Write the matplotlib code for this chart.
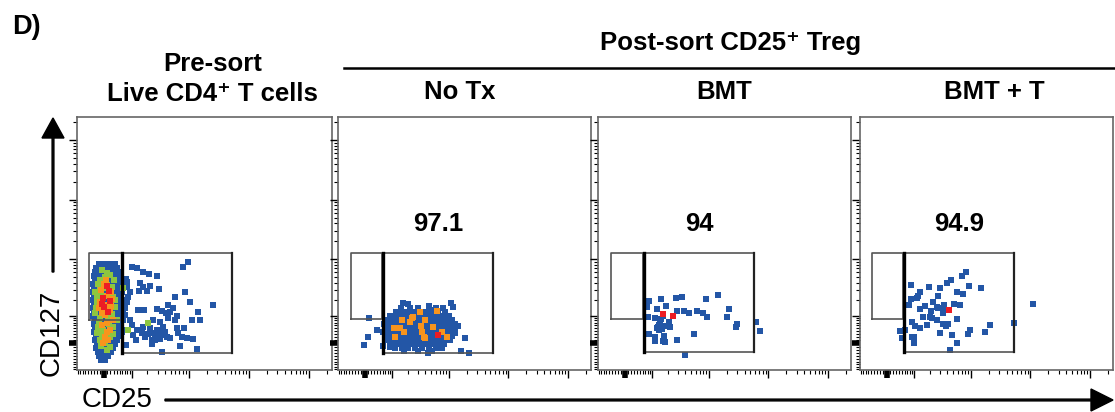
import numpy as np
import matplotlib
matplotlib.use("Agg")
import matplotlib.pyplot as plt

plt.rcParams['font.family'] = ['Liberation Sans', 'DejaVu Sans']

# ---- data (channel units, 0..~255 along each panel axis) ----
panel_titles = ["No Tx", "BMT", "BMT + T"]
gate_percent = ["97.1", "94", "94.9"]

# Pre-sort panel: dense CD25- core, listed as (CD127 row, [CD25 values])
p1_core_rows = [
    (106, [22, 27, 33, 38]),
    (102, [19, 24, 30, 35, 40]),
    (98, [18, 22, 27, 33, 38, 42]),
    (94, [17, 21, 25, 31, 36, 41]),
    (90, [18, 22, 27, 32, 37, 43]),
    (86, [16, 20, 25, 29, 34, 39, 44]),
    (82, [17, 22, 27, 31, 38, 42]),
    (78, [16, 20, 25, 29, 34, 40, 45]),
    (74, [17, 22, 27, 32, 37, 43]),
    (70, [16, 19, 24, 29, 35, 40, 45]),
    (66, [17, 21, 26, 32, 37, 42, 47]),
    (62, [16, 20, 24, 29, 35, 39, 44]),
    (58, [17, 21, 27, 33, 37, 42, 46]),
    (54, [16, 20, 25, 29, 34, 40, 45]),
    (50, [18, 22, 27, 31, 36, 41, 46]),
    (46, [17, 21, 25, 30, 35, 39, 44]),
    (42, [18, 22, 27, 32, 37, 42]),
    (38, [17, 21, 25, 30, 35, 40, 45]),
    (34, [19, 23, 27, 32, 37, 42]),
    (30, [18, 22, 26, 30, 35, 40]),
    (26, [20, 24, 28, 33, 38]),
    (22, [19, 23, 27, 32, 36]),
    (18, [21, 25, 29, 34]),
    (14, [22, 26, 31]),
    (10, [24, 28]),
]
p1_blue = [
    (111, 108), (106, 103), (55, 103), (60, 102), (66, 98), (72, 96), (80, 94),
    (49, 91), (63, 87), (66, 83), (73, 84), (82, 81), (62, 79), (70, 79),
    (50, 83), (53, 78), (108, 78), (98, 73), (113, 68), (136, 65), (121, 58),
    (61, 60), (67, 60), (80, 61), (85, 59), (89, 57), (93, 58), (100, 54),
    (91, 52), (98, 50), (123, 50), (115, 50), (107, 42), (83, 48), (76, 50),
    (86, 43), (83, 38), (78, 35), (75, 30), (83, 31), (90, 33), (101, 37),
    (105, 33), (110, 32), (103, 24), (116, 31), (120, 21), (85, 18), (55, 45),
    (60, 40), (65, 37), (56, 35), (59, 30), (68, 33), (46, 70), (50, 68),
    (48, 62), (51, 73), (53, 50), (66, 43), (73, 42), (80, 40), (75, 37),
    (80, 33), (86, 35), (93, 32), (75, 26), (100, 42), (96, 62), (91, 65),
    (47, 40), (49, 25), (48, 55), (50, 88), (78, 30), (88, 38), (71, 36),
]
p1_green = [
    (28, 93), (30, 85), (23, 80), (35, 83), (20, 67), (25, 63), (23, 52),
    (31, 52), (21, 43), (26, 40), (33, 33), (23, 30), (33, 23), (20, 73),
    (36, 73), (38, 63), (18, 57), (30, 97), (23, 90), (36, 43), (20, 37),
    (28, 27), (71, 47), (51, 40), (46, 82), (25, 100), (33, 95), (21, 86),
    (27, 82), (37, 90), (18, 78), (24, 76), (38, 70), (19, 62), (35, 56),
    (22, 47), (32, 46), (25, 35), (36, 36), (30, 20), (24, 24), (40, 50),
]
p1_orange = [
    (30, 74), (23, 68), (31, 65), (25, 57), (33, 60), (30, 47), (33, 40),
    (28, 33), (31, 30), (27, 86), (34, 78), (28, 55), (24, 80), (29, 90),
    (35, 71), (22, 62), (36, 50), (25, 45), (30, 38), (26, 27), (34, 64),
]
p1_red = [(32, 79), (26, 72), (33, 69), (27, 63), (31, 58), (30, 84), (25, 66)]

# No Tx: dense CD25+ blob
p2_core_rows = [
    (62, [72, 80, 98, 105]),
    (58, [58, 64, 70, 76, 82, 88, 94, 100, 107]),
    (54, [52, 57, 63, 69, 75, 81, 87, 93, 99, 105, 111]),
    (50, [48, 54, 60, 66, 72, 78, 84, 90, 96, 102, 108, 114]),
    (46, [46, 51, 57, 63, 69, 75, 81, 87, 93, 99, 105, 111, 117]),
    (42, [48, 54, 60, 66, 72, 78, 84, 90, 96, 102, 108, 114]),
    (38, [45, 51, 57, 63, 69, 75, 81, 87, 93, 99, 105, 111, 117]),
    (34, [48, 54, 60, 66, 72, 78, 84, 90, 96, 102, 108, 114]),
    (30, [47, 53, 59, 65, 71, 77, 83, 89, 95, 101, 107, 112]),
    (26, [52, 58, 64, 70, 76, 82, 88, 94, 100, 106]),
    (22, [57, 64, 70, 77, 84, 91, 98, 104]),
    (19, [66, 80, 94]),
]
p2_blue = [
    (31, 52), (39, 40), (30, 33), (26, 25), (45, 24), (47, 44), (63, 62),
    (65, 67), (70, 66), (91, 64), (92, 60), (113, 67), (115, 63), (120, 44),
    (117, 37), (127, 32), (123, 19), (131, 17), (90, 17), (52, 23),
]
p2_orange = [
    (56, 42), (62, 42), (66, 38), (74, 52), (75, 53), (82, 58), (87, 50),
    (83, 44), (84, 38), (87, 32), (95, 43), (99, 59), (104, 38), (109, 33),
    (64, 50), (72, 48), (57, 33), (86, 33),
]
p2_red = [(100, 35)]

# BMT
p3_blue = [
    (51, 69), (63, 71), (78, 72), (84, 73), (108, 71), (120, 75), (49, 63),
    (68, 64), (59, 61), (79, 59), (86, 59), (91, 57), (99, 59), (105, 57),
    (109, 53), (131, 61), (129, 53), (50, 53), (57, 52), (63, 51), (65, 54),
    (71, 48), (72, 43), (61, 45), (63, 43), (59, 42), (61, 40), (64, 41),
    (66, 44), (51, 36), (57, 33), (66, 34), (57, 29), (65, 29), (67, 28),
    (79, 30), (96, 36), (139, 46), (138, 43), (158, 48), (162, 39), (87, 15),
    (60, 43), (62, 46),
]
p3_red = [(65, 56), (75, 54)]

# BMT + T
p4_blue = [
    (106, 98), (102, 94), (91, 90), (87, 87), (51, 85), (69, 83), (80, 82),
    (109, 84), (121, 82), (60, 78), (97, 78), (103, 76), (58, 74), (78, 74),
    (51, 71), (57, 72), (73, 68), (49, 65), (65, 64), (77, 63), (84, 65),
    (94, 66), (100, 65), (173, 66), (60, 61), (71, 59), (83, 60), (83, 57),
    (97, 51), (63, 53), (70, 53), (72, 52), (77, 50), (52, 48), (55, 44),
    (60, 42), (67, 45), (83, 46), (86, 44), (88, 46), (45, 40), (40, 39),
    (42, 32), (52, 33), (54, 33), (80, 37), (92, 35), (108, 36), (110, 40),
    (125, 38), (130, 45), (154, 47), (54, 27), (97, 27), (90, 20), (78, 62),
]
p4_red = [(89, 60)]

# gates per panel: (x0, x1, y0, y1) for CD127hi gate and CD25+ gate
gate_left = [(12, 45, 50, 117), (13, 44, 51, 117), (13, 45, 51, 117), (12, 43, 51, 117)]
gate_right = [(45, 155, 17, 117), (45, 155, 17, 117), (46, 156, 18, 117), (44, 154, 18, 117)]

BLUE = '#2356a6'
GREEN = '#8dc63f'
ORANGE = '#f7941d'
RED = '#ec1c24'


def rows_to_points(rows):
    return [(x, y) for y, xs in rows for x in xs]


def biex(v):
    # display position (fraction of axis) of a fluorescence value
    return 0.105 + 0.1025 * np.arcsinh(np.asarray(v, dtype=float) / 78.0)


major_vals = [0, 1e2, 1e3, 1e4, 1e5]
minor_vals = [s * m for s in (-1, 1) for m in range(10, 100, 10)]
minor_vals += [m * 10 ** d for d in (2, 3, 4, 5) for m in range(2, 10)]

fig = plt.figure(figsize=(11.15, 4.12), dpi=100)
W, H = 1115, 412
panels_px = [(77, 332), (338, 591), (598, 851), (860, 1113)]
top_px, bot_px = 117, 370

panel_data = [
    [(rows_to_points(p1_core_rows) + p1_blue, BLUE), (p1_green, GREEN), (p1_orange, ORANGE), (p1_red, RED)],
    [(rows_to_points(p2_core_rows) + p2_blue, BLUE), (p2_orange, ORANGE), (p2_red, RED)],
    [(p3_blue, BLUE), (p3_red, RED)],
    [(p4_blue, BLUE), (p4_red, RED)],
]

for i, (L, R) in enumerate(panels_px):
    ax = fig.add_axes([L / W, 1 - bot_px / H, (R - L) / W, (bot_px - top_px) / H])
    wx, wy = R - L, bot_px - top_px
    ax.set_xlim(0, wx)
    ax.set_ylim(0, wy)
    for pts, col in panel_data[i]:
        xs = [p[0] for p in pts]
        ys = [p[1] for p in pts]
        ax.scatter(xs, ys, s=15, marker='s', color=col, linewidths=0, zorder=3)

    x0, x1, y0, y1 = gate_left[i]
    ax.plot([x0, x1, x1, x0, x0], [y0, y0, y1, y1, y0], color='#555555', lw=1.2, zorder=4)
    x0, x1, y0, y1 = gate_right[i]
    ax.plot([x0, x1], [y0, y0], color='#555555', lw=1.2, zorder=4)
    ax.plot([x0, x1], [y1, y1], color='#555555', lw=1.2, zorder=4)
    ax.plot([x0, x0], [y0, y1], color='black', lw=2.4, zorder=5)
    ax.plot([x1, x1], [y0, y1], color='#222222', lw=1.6, zorder=5)

    if i > 0:
        ax.text((x0 + x1) / 2, 146, gate_percent[i - 1], ha='center', va='center',
                fontsize=18.5, fontweight='bold')

    ax.set_xticks(biex(major_vals) * wx)
    ax.set_xticks(biex([v for v in minor_vals if biex(v) <= 1]) * wx, minor=True)
    ax.set_yticks(biex(major_vals) * wy)
    ax.set_yticks(biex([v for v in minor_vals if biex(v) <= 1]) * wy, minor=True)
    ax.set_xticklabels([])
    ax.set_yticklabels([])
    ax.tick_params(which='major', length=5.5, width=1.0, color='black')
    ax.tick_params(which='minor', length=2.8, width=0.8, color='black')
    # the zero tick shows as a heavy block in the original
    ax.xaxis.get_major_ticks()[0].tick1line.set_markeredgewidth(4)
    ax.yaxis.get_major_ticks()[0].tick1line.set_markeredgewidth(4)
    for sp in ax.spines.values():
        sp.set_color('#666666')
        sp.set_linewidth(1.2)

# overlay in pixel units for headings and axis arrows
ov = fig.add_axes([0, 0, 1, 1], zorder=-1)
ov.set_xlim(0, W)
ov.set_ylim(H, 0)
ov.axis('off')

ov.text(12, 27, "D)", ha='left', va='center', fontsize=19.5, fontweight='bold')
ov.text(213, 64, "Pre-sort", ha='center', va='center', fontsize=18.5, fontweight='bold')
ov.text(212, 94, "Live CD4\u207a T cells", ha='center', va='center', fontsize=18.5, fontweight='bold')
ov.text(731, 43, "Post-sort CD25\u207a Treg", ha='center', va='center', fontsize=18.5, fontweight='bold')
ov.plot([344, 1114], [68, 68], color='black', lw=1.8)
for t, cx in zip(panel_titles, [460, 724, 994]):
    ov.text(cx, 92, t, ha='center', va='center', fontsize=18.5, fontweight='bold')

ov.text(52, 333, "CD127", ha='center', va='center', rotation=90, fontsize=20)
ov.arrow(53, 272, 0, -154, width=1.8, head_width=22, head_length=20,
         length_includes_head=True, color='black')
ov.text(82, 400, "CD25", ha='left', va='center', fontsize=20)
ov.arrow(165, 400, 948, 0, width=1.8, head_width=22, head_length=22,
         length_includes_head=True, color='black')

fig.savefig("out.png", dpi=100)
